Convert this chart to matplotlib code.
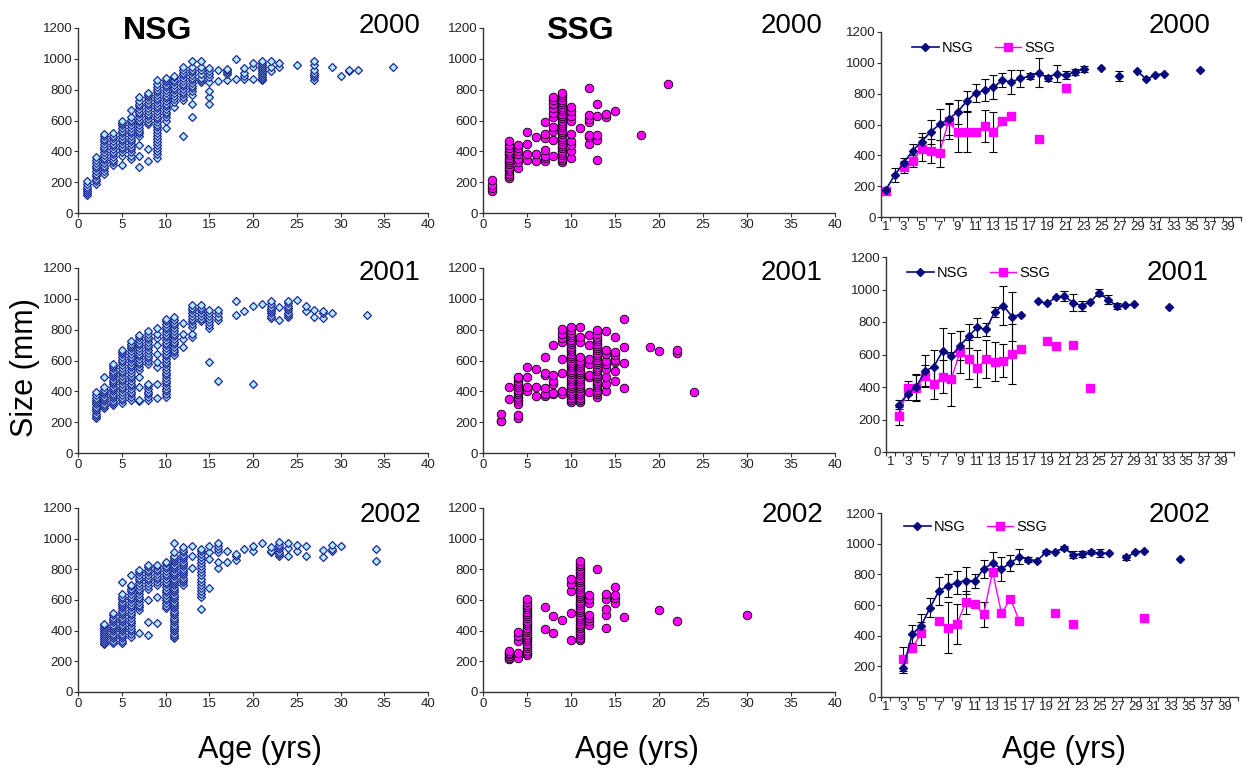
import matplotlib
matplotlib.use('Agg')
import matplotlib.pyplot as plt
from matplotlib.lines import Line2D
import numpy as np

plt.rcParams['font.family'] = ['Liberation Sans', 'DejaVu Sans']

# ---------------- scatter data: size (mm) per age (yrs) ----------------
nsg_2000 = {
    1: [120, 132, 145, 158, 170, 185, 210],
    2: [190, 205, 220, 238, 255, 272, 290, 308, 325, 345, 365],
    3: [255, 272, 290, 308, 325, 342, 360, 378, 395, 412, 430, 448, 465, 483, 500, 515],
    4: [310, 328, 345, 362, 380, 398, 415, 432, 450, 468, 485, 502, 520],
    5: [310, 370, 395, 412, 430, 448, 465, 482, 500, 518, 535, 552, 570, 585, 600],
    6: [350, 372, 395, 412, 430, 448, 465, 482, 500, 518, 535, 552, 570, 588, 605, 620, 670],
    7: [300, 370, 440, 500, 518, 535, 552, 570, 588, 605, 622, 640, 658, 675, 692, 710, 728, 750],
    8: [340, 415, 575, 592, 610, 628, 645, 662, 680, 698, 715, 732, 750, 765, 780],
    9: [355, 380, 400, 420, 440, 460, 480, 500, 520, 538, 555, 572, 590, 608, 625, 642, 660,
        678, 695, 712, 730, 748, 765, 782, 800, 818, 840, 860],
    10: [550, 600, 622, 640, 658, 675, 692, 710, 728, 745, 762, 780, 798, 815, 832, 850, 865, 875],
    11: [690, 720, 742, 760, 778, 795, 812, 830, 848, 865, 880, 890],
    12: [500, 735, 752, 770, 788, 805, 822, 840, 858, 875, 892, 910, 930, 950],
    13: [625, 710, 765, 790, 808, 825, 842, 860, 878, 895, 912, 930, 950, 985],
    14: [850, 862, 875, 900, 925, 950, 985],
    15: [710, 750, 790, 850, 880, 900, 920, 940],
    16: [855, 930],
    17: [860, 900, 912, 925, 935],
    18: [870, 1000],
    19: [870, 890, 910, 940],
    20: [870, 950, 970],
    21: [860, 872, 885, 898, 910, 922, 935, 948, 960, 972, 985],
    22: [920, 950, 985],
    23: [945, 975],
    25: [960],
    27: [865, 880, 895, 910, 930, 960, 985],
    29: [950],
    30: [890],
    31: [918, 925],
    32: [925],
    36: [950],
}

ssg_2000 = {
    1: [140, 160, 180, 215],
    3: [225, 240, 255, 270, 285, 300, 315, 330, 345, 360, 375, 390, 405, 420, 440, 470],
    4: [290, 330, 350, 380, 400, 420, 440],
    5: [345, 380, 450, 525],
    6: [335, 380, 495],
    7: [340, 355, 370, 410, 485, 512, 590],
    8: [370, 475, 530, 560, 625, 650, 680, 710, 735, 755],
    9: [330, 345, 360, 375, 390, 405, 420, 435, 450, 465, 480, 495, 510, 525, 540, 555, 570,
        585, 600, 615, 630, 645, 660, 675, 690, 705, 720, 735, 750, 765, 780],
    10: [360, 400, 440, 470, 515, 600, 630, 660, 690],
    11: [550],
    12: [450, 490, 505, 590, 610, 635, 810],
    13: [345, 475, 505, 630, 705],
    14: [620, 645],
    15: [660],
    18: [505],
    21: [835],
}

nsg_2001 = {
    2: [225, 240, 255, 270, 285, 300, 315, 330, 345, 360, 375, 395],
    3: [290, 305, 320, 335, 350, 365, 380, 395, 410, 430, 495],
    4: [310, 325, 340, 355, 370, 385, 400, 415, 430, 445, 460, 475, 490, 505, 520, 535, 550, 565, 580],
    5: [325, 342, 360, 378, 395, 412, 430, 448, 465, 482, 500, 518, 535, 552, 570, 588, 605, 622,
        640, 655, 670],
    6: [345, 362, 380, 398, 415, 432, 450, 468, 485, 502, 520, 538, 555, 572, 590, 608, 625, 642,
        660, 678, 695, 710, 725],
    7: [335, 345, 430, 495, 540, 558, 575, 592, 610, 628, 645, 662, 680, 698, 715, 732, 750, 765],
    8: [345, 362, 380, 398, 415, 432, 450, 580, 598, 615, 632, 650, 668, 685, 702, 720, 738, 755,
        772, 790],
    9: [355, 450, 560, 590, 645, 700, 745, 775, 810],
    10: [365, 382, 400, 418, 435, 452, 470, 488, 505, 522, 540, 558, 575, 592, 610, 628, 645, 662,
         680, 698, 715, 732, 750, 768, 785, 802, 820, 838, 855, 870],
    11: [635, 652, 670, 688, 705, 722, 740, 758, 775, 792, 810, 828, 845, 862, 885],
    12: [690, 740, 770, 845],
    13: [755, 775, 820, 838, 855, 872, 890, 908, 925, 942, 960],
    14: [855, 872, 890, 908, 925, 942, 960],
    15: [590, 810, 830, 850, 870, 890, 910, 930],
    16: [470, 865, 885, 905, 930],
    18: [895, 985],
    19: [920],
    20: [445, 955],
    21: [965],
    22: [875, 890, 905, 920, 935, 950, 965, 985],
    23: [865, 950],
    24: [880, 895, 910, 925, 940, 955, 970, 985],
    25: [995],
    26: [920, 955],
    27: [880, 925],
    28: [875, 905, 920],
    29: [910],
    33: [895],
}

ssg_2001 = {
    2: [205, 210, 250],
    3: [350, 430],
    4: [230, 245, 320, 335, 350, 365, 380, 395, 410, 425, 440, 455, 470, 485, 495],
    5: [400, 430, 495, 560],
    6: [370, 430, 545],
    7: [370, 385, 420, 505, 520, 620],
    8: [380, 390, 445, 470, 505, 700],
    9: [380, 405, 520, 610, 720, 745, 775, 805],
    10: [330, 345, 360, 375, 390, 405, 420, 435, 450, 465, 480, 495, 510, 525, 540, 555, 570, 585,
         600, 615, 630, 645, 660, 675, 690, 705, 720, 735, 750, 765, 780, 800, 815],
    11: [330, 345, 360, 375, 390, 405, 420, 435, 450, 465, 480, 495, 510, 525, 540, 555, 570, 585,
         600, 620, 720, 750, 815],
    12: [395, 490, 505, 575, 610, 700, 765],
    13: [365, 380, 395, 410, 425, 440, 455, 470, 485, 500, 515, 530, 545, 560, 575, 590, 605, 620,
         635, 650, 665, 680, 695, 710, 725, 740, 755, 770, 795],
    14: [400, 445, 495, 545, 575, 600, 645, 670, 790],
    15: [470, 535, 590, 605, 635, 655, 750],
    16: [420, 585, 685, 870],
    19: [690],
    20: [660],
    22: [650, 670],
    24: [395],
}

nsg_2002 = {
    3: [310, 322, 335, 348, 360, 372, 385, 398, 410, 422, 435, 445],
    4: [320, 335, 350, 365, 380, 395, 410, 425, 440, 455, 470, 485, 500, 515],
    5: [320, 335, 350, 365, 380, 395, 410, 425, 440, 455, 470, 485, 500, 515, 530, 545, 560, 575,
        590, 605, 620, 640, 720],
    6: [360, 378, 395, 412, 430, 448, 465, 482, 500, 518, 535, 552, 570, 588, 605, 622, 640, 658,
        675, 690, 700, 760],
    7: [385, 535, 552, 570, 588, 605, 622, 640, 658, 675, 692, 710, 728, 745, 762, 780, 795],
    8: [370, 455, 600, 675, 692, 710, 728, 745, 762, 780, 798, 815, 830],
    9: [450, 620, 700, 718, 735, 752, 770, 788, 805, 820, 830],
    10: [545, 562, 580, 598, 615, 632, 650, 668, 685, 702, 720, 738, 755, 772, 790, 808, 825, 840, 850],
    11: [350, 365, 380, 395, 410, 425, 440, 455, 470, 485, 500, 515, 530, 545, 560, 575, 590, 605,
         620, 635, 650, 665, 680, 695, 710, 725, 740, 755, 770, 785, 800, 815, 830, 845, 860, 875,
         890, 910, 975],
    12: [700, 715, 730, 745, 760, 775, 790, 805, 820, 835, 850, 865, 880, 895, 910, 925, 945],
    13: [810, 890, 955],
    14: [540, 620, 640, 660, 680, 700, 720, 740, 760, 780, 800, 820, 840, 860, 880, 900, 920, 935],
    15: [680, 865, 910, 950],
    16: [810, 850, 915, 935, 955, 970],
    17: [850, 920],
    18: [860, 885, 900],
    19: [930],
    20: [920, 950],
    21: [970],
    22: [910, 920, 945],
    23: [885, 900, 915, 930, 945, 960, 980],
    24: [890, 940, 970],
    25: [920, 960],
    26: [890, 950],
    28: [880, 925],
    29: [920, 930, 960],
    30: [950],
    34: [855, 930],
}

ssg_2002 = {
    3: [215, 225, 235, 245, 255, 265],
    4: [225, 255, 330, 365, 390],
    5: [240, 255, 270, 285, 300, 315, 330, 345, 360, 375, 390, 405, 420, 435, 450, 465, 480, 495,
        510, 525, 540, 555, 570, 590, 607],
    7: [413, 557],
    8: [387, 493],
    9: [467],
    10: [340, 515, 660, 705, 740],
    11: [340, 355, 370, 385, 400, 415, 430, 445, 460, 475, 490, 505, 520, 535, 550, 565, 580, 595,
         610, 625, 640, 655, 670, 685, 700, 715, 730, 745, 760, 775, 790, 805, 820, 835, 855],
    12: [440, 460, 485, 505, 580, 607, 633],
    13: [805],
    14: [420, 505, 540, 605, 640],
    15: [580, 615, 630, 687],
    16: [490],
    20: [535],
    22: [465],
    30: [500],
}

# ---------------- mean size +- error per age (None = no data / no bar) ----------------
nsg_mean_2000_age = list(range(1, 37))
nsg_mean_2000 = [173, 270, 350, 428, 489, 551, 601, 634, 681, 750, 804, 822, 843, 886, 876, 900,
                 912, 936, 902, 930, 919, 941, 958, None, 964, None, 915, None, 945, 893, 923, 928,
                 None, None, None, 956]
nsg_err_2000 = [15, 46, 35, 45, 55, 80, 100, 105, 80, 65, 60, 70, 75, 45, 80, 55, 20, 95, 20, 55,
                25, 18, 20, None, None, None, 35, None, None, None, None, None, None, None, None, None]
ssg_mean_2000_age = list(range(1, 22))
ssg_mean_2000 = [169, None, 324, 363, 441, 428, 413, 620, 549, 549, 549, 592, 549, 623, 657, None,
                 None, 506, None, None, 837]
ssg_err_2000 = [12, None, 37, 40, 80, 80, 88, 115, 130, 130, None, 105, 130, None, None, None, None,
                None, None, None, None]

nsg_mean_2001_age = list(range(2, 34))
nsg_mean_2001 = [292, 358, 403, 499, 525, 621, 591, 654, 713, 767, 754, 863, 900, 832, 846, None,
                 928, 914, 951, 959, 920, 900, 924, 981, 938, 900, 904, 908, None, None, None, 893]
nsg_err_2001 = [30, 35, 80, 100, 100, 145, 140, 90, 75, 60, 40, 30, 120, 150, None, None, None, None,
                None, 30, 55, 30, None, 20, 30, 20, None, None, None, None, None, None]
ssg_mean_2001_age = list(range(2, 25))
ssg_mean_2001 = [219, 393, 393, 470, 419, 464, 448, 615, 572, 515, 572, 554, 562, 601, 634, None,
                 None, 685, 652, None, 656, None, 393]
ssg_err_2001 = [55, 45, 80, 65, 95, 100, 165, 130, 120, 115, 115, 120, 100, 185, None, None, None,
                None, None, None, None, None, None]

nsg_mean_2002_age = list(range(3, 35))
nsg_mean_2002 = [190, 410, 465, 583, 692, 724, 746, 759, 757, 836, 873, 836, 873, 916, 895, 890,
                 945, 947, 973, 929, 932, 945, 938, 938, None, 910, 945, 953, None, None, None, 899]
nsg_err_2002 = [35, 60, 75, 60, 90, 75, 75, 90, 45, 60, 70, 80, 50, 50, 15, None, 15, None, 15, 20,
                20, 15, 25, None, None, 15, None, None, None, None, None, None]
ssg_mean_2002_age = list(range(3, 31))
ssg_mean_2002 = [247, 321, 415, None, 497, 452, 476, 617, 607, 539, 818, 545, 641, 497, None, None,
                 None, 545, None, 476, None, None, None, None, None, None, None, 513]
ssg_err_2002 = [80, None, 75, None, None, 165, 130, 75, None, 80, None, None, None, None, None, None,
                None, None, None, None, None, None, None, None, None, None, None, None]

years = ['2000', '2001', '2002']
y_ticks = [0, 200, 400, 600, 800, 1000, 1200]
x_ticks_scatter = [0, 5, 10, 15, 20, 25, 30, 35, 40]
cat_labels = list(range(1, 40, 2))

# ---------------- figure ----------------
W, H = 1250, 772
fig = plt.figure(figsize=(W / 100, H / 100), dpi=100)

NAVY = '#0a0a80'
MAG = '#ff00ff'


def add_ax(x0, x1, ytop, ybot):
    return fig.add_axes([x0 / W, 1 - ybot / H, (x1 - x0) / W, (ybot - ytop) / H])


def style(ax):
    for s in ['top', 'right']:
        ax.spines[s].set_visible(False)
    for s in ['left', 'bottom']:
        ax.spines[s].set_linewidth(1.0)
        ax.spines[s].set_color('#333333')
    ax.tick_params(direction='out', length=3, width=0.8, pad=1, labelsize=9.5,
                   colors='#333333', labelcolor='#222222')
    ax.set_ylim(0, 1200)
    ax.set_yticks(y_ticks)


def scatter_panel(ax, data, kind):
    xs, ys = [], []
    for a, vals in data.items():
        xs.extend([a] * len(vals))
        ys.extend(vals)
    if kind == 'NSG':
        ax.plot(xs, ys, linestyle='none', marker='D', ms=4.0, mfc='#b4ecff', mec='#1c2896', mew=0.9)
    else:
        ax.plot(xs, ys, linestyle='none', marker='o', ms=6.2, mfc=MAG, mec='black', mew=0.6)
    style(ax)
    ax.set_xlim(0, 40)
    ax.set_xticks(x_ticks_scatter)


def to_arr(v):
    return np.array([np.nan if x is None else x for x in v], dtype=float)


def mean_panel(ax, na, nm, ne, sa, sm, se, leg_xy):
    na, nm, ne = np.array(na), to_arr(nm), to_arr(ne)
    sa, sm, se = np.array(sa), to_arr(sm), to_arr(se)
    for a, m, e in ((na, nm, ne), (sa, sm, se)):
        ok = ~np.isnan(e) & ~np.isnan(m)
        ax.errorbar(a[ok], m[ok], yerr=e[ok], fmt='none', ecolor='black', elinewidth=0.8,
                    capsize=3, capthick=0.8, zorder=2)
    ax.plot(sa, sm, color=MAG, lw=1.0, marker='s', ms=6, mfc=MAG, mec=MAG, zorder=3)
    ax.plot(na, nm, color=NAVY, lw=1.2, marker='D', ms=4.3, mfc=NAVY, mec=NAVY, zorder=4)
    style(ax)
    ax.set_xlim(0.5, 40.5)
    ax.set_xticks(cat_labels)
    ax.set_xticks(np.arange(0.5, 41, 1.0), minor=True)
    ax.tick_params(axis='x', which='major', length=0, pad=3)
    ax.tick_params(axis='x', which='minor', direction='out', length=3, width=0.8, colors='#333333')
    handles = [Line2D([], [], color=NAVY, lw=1.2, marker='D', ms=4.3, mfc=NAVY, mec=NAVY),
               Line2D([], [], color=MAG, lw=1.0, marker='s', ms=6, mfc=MAG, mec=MAG)]
    ax.legend(handles, ['NSG', 'SSG'], ncol=2, frameon=False, fontsize=10.5,
              loc='center left', bbox_to_anchor=(leg_xy[0] / W, 1 - leg_xy[1] / H),
              bbox_transform=fig.transFigure, borderpad=0, handlelength=1.8,
              handletextpad=0.2, columnspacing=1.5)


left_rows = [(28, 213), (268, 453), (508, 692)]
right_rows = [(881, 1241, 32, 217), (886, 1234, 257, 452), (881, 1238, 513, 697)]
nsg_data = [nsg_2000, nsg_2001, nsg_2002]
ssg_data = [ssg_2000, ssg_2001, ssg_2002]
means = [
    (nsg_mean_2000_age, nsg_mean_2000, nsg_err_2000, ssg_mean_2000_age, ssg_mean_2000, ssg_err_2000),
    (nsg_mean_2001_age, nsg_mean_2001, nsg_err_2001, ssg_mean_2001_age, ssg_mean_2001, ssg_err_2001),
    (nsg_mean_2002_age, nsg_mean_2002, nsg_err_2002, ssg_mean_2002_age, ssg_mean_2002, ssg_err_2002),
]
legend_pos = [(905, 48), (900, 273), (897, 527)]
year_base = [33, 280, 522]
year_right_x = [(421, 823, 1210), (421, 823, 1208), (421, 823, 1210)]

for i in range(3):
    yt, yb = left_rows[i]
    ax1 = add_ax(78, 428, yt, yb)
    scatter_panel(ax1, nsg_data[i], 'NSG')
    ax2 = add_ax(483, 835, yt, yb)
    scatter_panel(ax2, ssg_data[i], 'SSG')
    x0, x1, ryt, ryb = right_rows[i]
    ax3 = add_ax(x0, x1, ryt, ryb)
    mean_panel(ax3, *means[i], legend_pos[i])
    for xr in year_right_x[i]:
        fig.text(xr / W, 1 - year_base[i] / H, years[i], fontsize=20, ha='right', va='baseline')

fig.text(158 / W, 1 - 39 / H, 'NSG', fontsize=23, fontweight='bold', ha='center', va='baseline')
fig.text(580 / W, 1 - 39 / H, 'SSG', fontsize=23, fontweight='bold', ha='center', va='baseline')
fig.text(25 / W, 1 - 368 / H, 'Size (mm)', fontsize=22, rotation=90, ha='center', va='center')
for xc in (260, 637, 1064):
    fig.text(xc / W, 1 - 750 / H, 'Age (yrs)', fontsize=22, ha='center', va='center')

fig.savefig('out.png', dpi=100)
